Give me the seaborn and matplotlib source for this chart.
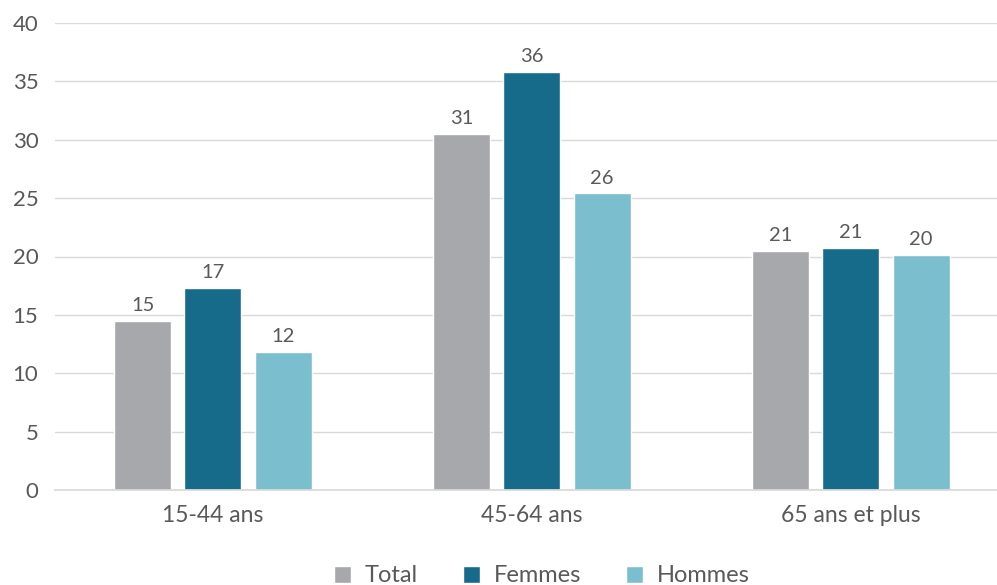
import matplotlib
matplotlib.use("Agg")
import matplotlib.pyplot as plt
import seaborn as sns
import pandas as pd
from matplotlib.patches import Patch

categories = ["15-44 ans", "45-64 ans", "65 ans et plus"]
series = ["Total", "Femmes", "Hommes"]
total = [14.5, 30.5, 20.5]
femmes = [17.3, 35.8, 20.7]
hommes = [11.8, 25.4, 20.1]
labels_total = ["15", "31", "21"]
labels_femmes = ["17", "36", "21"]
labels_hommes = ["12", "26", "20"]
colors = ["#A7A8AC", "#176B8A", "#7BBFCE"]

rows = []
for s, vals in zip(series, [total, femmes, hommes]):
    for c, v in zip(categories, vals):
        rows.append({"cat": c, "serie": s, "val": v})
df = pd.DataFrame(rows)

sns.set_theme(style="white")
plt.rcParams["font.family"] = ["Lato", "DejaVu Sans"]
txt = "#595959"

fig = plt.figure(figsize=(9.97, 5.85), dpi=100)
ax = fig.add_axes([55/997, (585-490)/585, 942/997, (490-23)/585])
sns.barplot(data=df, x="cat", y="val", hue="serie", palette=colors,
            order=categories, hue_order=series, width=0.66, gap=0.19,
            ax=ax, legend=False, saturation=1)

for cont, labs in zip(ax.containers, [labels_total, labels_femmes, labels_hommes]):
    ax.bar_label(cont, labels=labs, padding=5, fontsize=14.5, color=txt)

ax.set_ylim(0, 40)
ax.set_xlim(-0.495, 2.458)
ax.set_yticks(range(0, 41, 5))
ax.yaxis.grid(True, color="#D9D9D9", linewidth=1)
ax.set_axisbelow(True)
for s in ["top", "right", "left"]:
    ax.spines[s].set_visible(False)
ax.spines["bottom"].set_color("#D9D9D9")
ax.tick_params(axis="y", length=0, labelsize=16, labelcolor=txt, pad=12)
ax.tick_params(axis="x", length=0, labelsize=16.5, labelcolor=txt, pad=11)
ax.set_xlabel("")
ax.set_ylabel("")

handles = [Patch(facecolor=c, label=s) for c, s in zip(colors, series)]
fig.legend(handles=handles, loc="center", bbox_to_anchor=(542/997, 1 - 576/585),
           ncol=3, frameon=False, fontsize=17, labelcolor=txt,
           handlelength=0.7, handleheight=0.7, columnspacing=1.9, handletextpad=0.6)

fig.savefig("out.png", dpi=100)
